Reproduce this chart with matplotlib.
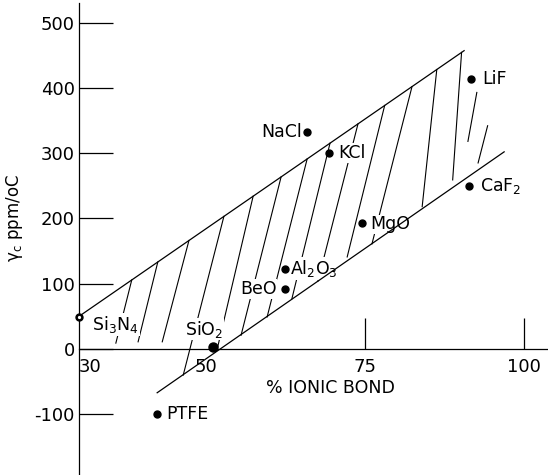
import numpy as np
import matplotlib
matplotlib.use("Agg")
import matplotlib.pyplot as plt

# Measured materials: % ionic bond vs temperature coefficient
materials = ['NaCl', 'KCl', 'LiF', r'CaF$_2$', 'MgO', r'Al$_2$O$_3$', 'BeO', r'SiO$_2$', r'Si$_3$N$_4$', 'PTFE']
ionic_bond = [65.9, 69.3, 91.7, 91.4, 74.5, 62.4, 62.4, 51.1, 30.0, 42.3]
gamma_c = [332, 300, 414, 250, 193, 123, 92, 3, 49, -100]

# Band boundaries (two straight lines)
upper_x = [30.0, 90.6]
upper_y = [50, 457]
lower_x = [42.3, 96.9]
lower_y = [-67, 302]

# Hand drawn hatching inside the band: start on the upper line, end near the lower one
hatch_top_x = [38.3, 42.4, 47.3, 52.8, 57.4, 61.8, 65.9, 69.5, 73.9, 78.1, 82.4, 86.3, 90.2]
hatch_bot_x = [35.8, 39.3, 43.1, 46.4, 51.7, 55.5, 59.6, 63.5, 67.6, 72.2, 76.1, 84.0, 88.8]
hatch_bot_y = [9, 11, 11, -40, -2, 21, 49, 77, 104, 141, 161, 218, 259]
# a few short strokes near LiF that do not touch the boundaries
stroke_x0 = [92.6, 94.3]
stroke_y0 = [393, 342]
stroke_x1 = [91.2, 92.8]
stroke_y1 = [318, 285]

x_ticks = [30, 50, 75, 100]
y_ticks = [-100, 0, 100, 200, 300, 400, 500]

# label placement (offset in points, alignment)
label_pos = {
    'NaCl': (-4, 0, 'right', 'center'),
    'KCl': (6.5, 0, 'left', 'center'),
    'LiF': (8, 0, 'left', 'center'),
    r'CaF$_2$': (8, 0, 'left', 'center'),
    'MgO': (6, -1, 'left', 'center'),
    r'Al$_2$O$_3$': (4, 0, 'left', 'center'),
    'BeO': (-6, 0, 'right', 'center'),
    r'SiO$_2$': (-20, 9, 'left', 'baseline'),
    r'Si$_3$N$_4$': (9.5, -9.5, 'left', 'baseline'),
    'PTFE': (6.5, 0, 'left', 'center'),
}

plt.rcParams['font.family'] = 'DejaVu Sans'
plt.rcParams['mathtext.default'] = 'regular'
plt.rcParams['axes.unicode_minus'] = False

fig = plt.figure(figsize=(5.48, 4.75), dpi=100)
ax = fig.add_axes([79 / 548, 0, 469 / 548, 472 / 475])
ax.set_xlim(30, 103.8)
ax.set_ylim(-193, 530)

# axes: y axis on the left, x axis through zero
ax.spines['top'].set_visible(False)
ax.spines['right'].set_visible(False)
ax.spines['bottom'].set_position(('data', 0))
ax.spines['left'].set_linewidth(0.9)
ax.spines['bottom'].set_linewidth(0.9)

ax.set_yticks(y_ticks)
ax.set_xticks(x_ticks)
ax.tick_params(axis='y', direction='in', length=24.5, width=0.9, pad=3, labelsize=13)
ax.tick_params(axis='x', direction='in', length=22, width=0.9, pad=6.5, labelsize=13)
for tick in ax.xaxis.get_major_ticks()[:2]:
    tick.tick1line.set_visible(False)
ax.xaxis.get_major_ticks()[0].label1.set_horizontalalignment('left')

ax.set_xlabel('% IONIC BOND', fontsize=12.5)
ax.xaxis.set_label_coords(0.537, 0.203)
ax.set_ylabel(r'$\gamma_c$ ppm/oC', fontsize=12)
ax.yaxis.set_label_coords(-0.115, 0.545)

# band edges
ax.plot(upper_x, upper_y, color='k', lw=0.9, zorder=4)
ax.plot(lower_x, lower_y, color='k', lw=0.9, zorder=4)

# hatching
hatch_top_y = np.interp(hatch_top_x, upper_x, upper_y)
for x0, y0, x1, y1 in zip(hatch_top_x, hatch_top_y, hatch_bot_x, hatch_bot_y):
    ax.plot([x0, x1], [y0, y1], color='k', lw=0.8, zorder=2)
for x0, y0, x1, y1 in zip(stroke_x0, stroke_y0, stroke_x1, stroke_y1):
    ax.plot([x0, x1], [y0, y1], color='k', lw=0.8, zorder=2)

# data points
for name, x, y in zip(materials, ionic_bond, gamma_c):
    if name == r'SiO$_2$':
        ax.plot(x, y, 'o', color='k', ms=6.5, zorder=5)
    elif name == r'Si$_3$N$_4$':
        ax.plot(x, y, 'o', mfc='k', mec='k', ms=5, zorder=5, clip_on=False)
        ax.plot(x, y, 'o', mfc='white', mec='white', ms=1.3, zorder=6, clip_on=False)
    else:
        ax.plot(x, y, 'o', color='k', ms=5, zorder=5)
    dx, dy, ha, va = label_pos[name]
    ax.annotate(name, (x, y), xytext=(dx, dy), textcoords='offset points',
                ha=ha, va=va, fontsize=12.5, zorder=3,
                bbox=dict(fc='white', ec='none', pad=0.6))

plt.savefig('out.png', dpi=100)
